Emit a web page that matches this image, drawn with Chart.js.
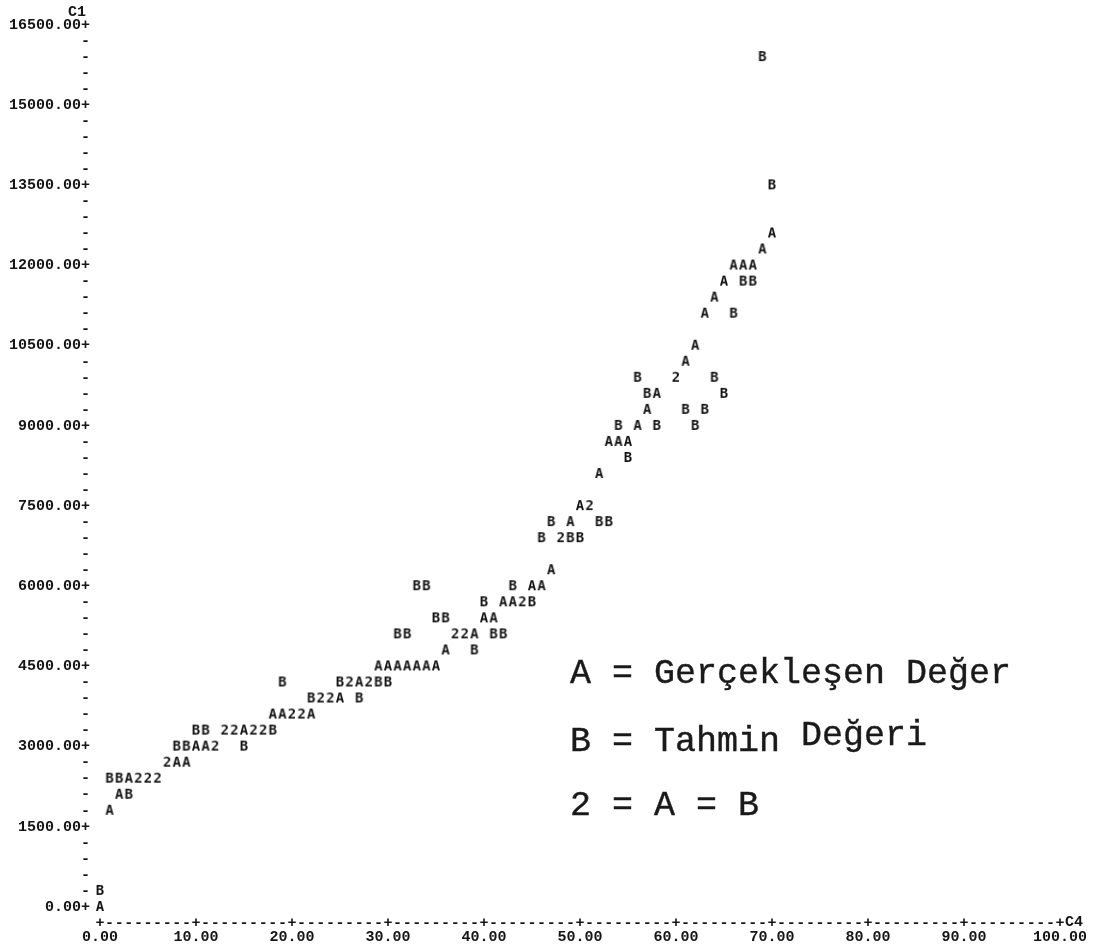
<!DOCTYPE html>
<html lang="tr">
<head>
<meta charset="UTF-8" />
<title>C1 / C4</title>
<script src="https://cdn.jsdelivr.net/npm/chart.js"></script>
<style>
  html, body { margin: 0; padding: 0; background: #fff; }
  #wrap { position: relative; width: 1095px; height: 948px; }
  .key {
    position: absolute; left: 570px;
    font-family: "Liberation Mono", "Courier New", monospace;
    font-size: 35px; color: #1a1a1a; white-space: pre;
    -webkit-text-stroke: 0.4px #1a1a1a;
  }
</style>
</head>
<body>
<div id="wrap">
  <canvas id="chart" width="1095" height="948"></canvas>
  <div class="key" style="top:654px">A = Gerçekleşen Değer</div>
  <div class="key" style="top:722px">B = Tahmin <span style="position:relative;top:-6px">Değeri</span></div>
  <div class="key" style="top:786px">2 = A = B</div>
</div>

<script>
// columns (C4) that carry a separate A and B mark
const abX = [0,1,2,3,8,9,10,11,15,18,19,22,25,27,29,30,31,32,33,34,35,36,39,40,41,42,43,45,46,47,49,50,52,53,54,55,56,57,58,61,62,63,64,65,66,67,68,69,70];
// A = actual value (C1)
const aY = [0,1800,2100,2400,2700,2700,3000,3000,3300,3600,3600,3600,3900,4200,4500,4500,4500,4500,4500,4500,4500,4800,5100,5400,5400,5700,5700,6000,6000,6300,7200,7500,8100,8700,8700,8700,9000,9300,9600,10200,10500,11100,11400,11700,12000,12000,12000,12300,12600];
// B = predicted value (C1)
const bY = [300,2400,2400,2100,3000,3000,3300,3300,3000,3300,4200,3900,4200,3900,4200,4200,5100,5100,6000,6000,5400,5400,4800,5700,5100,5100,6000,5700,6900,7200,6900,6900,7200,7200,9000,8400,9900,9600,9000,9300,9000,9300,9900,9600,11100,11700,11700,15900,13500];
// 2 = A and B fall on the same spot
const bothX = [4,5,6,7,12,13,14,16,17,20,21,23,24,26,28,37,38,44,48,51,60];
const bothY = [2400,2400,2400,2700,3000,3300,3300,3300,3300,3600,3600,3900,3900,4200,4200,5100,5100,5700,6900,7500,9900];

const xTitle = 'C4';
const yTitle = 'C1';
const yLabelEvery = 1500;

const ink = '#151515';
const printFont = '"Liberation Mono", "DejaVu Sans Mono", monospace';

function pts(xs, ys) {
  return xs.map((x, i) => ({ x: x, y: ys[i] }));
}

// a printed character used as the point marker
function letter(ch) {
  const c = document.createElement('canvas');
  c.width = 12; c.height = 16;
  const g = c.getContext('2d');
  g.font = 'bold 14px "DejaVu Sans Mono"';
  g.fillStyle = ink;
  g.textAlign = 'center';
  g.textBaseline = 'middle';
  g.fillText(ch, 6, 8.5);
  return c;
}

// the "+---------+" line of the printer plot plus axis names
const printerAxis = {
  id: 'printerAxis',
  afterDraw(chart) {
    const { ctx, scales: { x, y } } = chart;
    const row = y.getPixelForValue(-300);
    ctx.save();
    ctx.font = 'bold 15px ' + printFont;
    ctx.fillStyle = ink;
    ctx.textBaseline = 'middle';
    ctx.textAlign = 'center';
    for (let c = 0; c <= 100; c++) {
      ctx.fillText(c % 10 === 0 ? '+' : '-', x.getPixelForValue(c), row);
    }
    ctx.textAlign = 'left';
    ctx.fillText(xTitle, x.getPixelForValue(100) + 5, row - 1);
    ctx.textAlign = 'right';
    ctx.fillText(yTitle, x.left - 14, y.getPixelForValue(16500) - 13);
    ctx.restore();
  }
};

new Chart(document.getElementById('chart'), {
  type: 'scatter',
  data: {
    datasets: [
      { label: 'A', data: pts(abX, aY), pointStyle: letter('A'), clip: false },
      { label: 'B', data: pts(abX, bY), pointStyle: letter('B'), clip: false },
      { label: '2', data: pts(bothX, bothY), pointStyle: letter('2'), clip: false }
    ]
  },
  options: {
    responsive: false,
    animation: false,
    layout: { padding: { left: 9, right: 35, top: 25, bottom: 0 } },
    plugins: { legend: { display: false }, tooltip: { enabled: false } },
    scales: {
      x: {
        type: 'linear', min: 0, max: 100,
        grid: { display: false, drawTicks: false },
        border: { display: false },
        ticks: {
          stepSize: 10, padding: 5, color: ink,
          font: { family: printFont, size: 15, weight: 'bold' },
          maxRotation: 0,
          callback: v => v.toFixed(2)
        },
        afterFit(s) { s.height = 25; }
      },
      y: {
        type: 'linear', min: -300, max: 16500,
        grid: { display: false, drawTicks: false },
        border: { display: false },
        ticks: {
          stepSize: 300, autoSkip: false, padding: 10, color: ink,
          font: { family: printFont, size: 15, weight: 'bold' },
          callback: v => v < 0 ? '' : (v % yLabelEvery === 0 ? v.toFixed(2) + '+' : '-')
        },
        afterFit(s) { s.width = 91; }
      }
    }
  },
  plugins: [printerAxis]
});
</script>
</body>
</html>
